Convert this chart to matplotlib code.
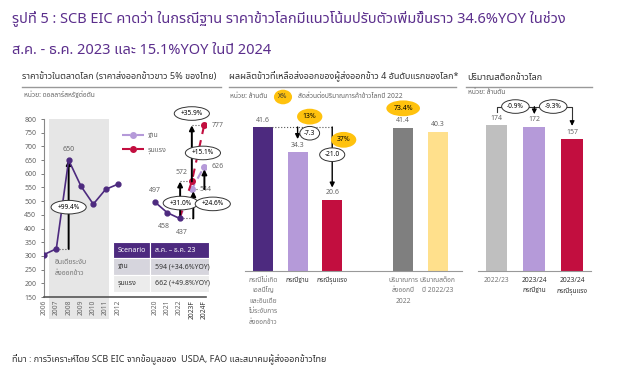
import matplotlib
matplotlib.use("Agg")
import matplotlib.pyplot as plt
import matplotlib.patches as patches

plt.rcParams['font.family'] = ['Noto Sans Thai', 'Kanit', 'DejaVu Sans']

# ---- data ----
hist_years = ["2006", "2007", "2008", "2009", "2010", "2011", "2012"]
hist_price = [305, 326, 650, 555, 489, 543, 562]
recent_years = ["2020", "2021", "2022"]
recent_price = [497, 458, 437]
fc_years = ["2023F", "2024F"]
base_fc = [544, 626]
severe_fc = [572, 777]

table_head = ["Scenario", "ส.ค. – ธ.ค. 23"]
table_rows = [["ฐาน", "594 (+34.6%YOY)"], ["รุนแรง", "662 (+49.8%YOY)"]]

export_labels = ["กรณีไม่เกิด\nเอลนีโญ\nและอินเดีย\nไม่ระงับการ\nส่งออกข้าว", "กรณีฐาน", "กรณีรุนแรง",
                 "ปริมาณการ\nส่งออกปี\n2022", "ปริมาณสต็อก\nปี 2022/23"]
export_vals = [41.6, 34.3, 20.6, 41.4, 40.3]
export_colors = ["#4d2a7f", "#b59ad9", "#c20e3f", "#7f7f7f", "#ffe08c"]

stock_labels = ["2022/23", "2023/24\nกรณีฐาน", "2023/24\nกรณีรุนแรง"]
stock_vals = [174, 172, 157]
stock_colors = ["#bfbfbf", "#b59ad9", "#c20e3f"]

PURPLE = "#4d2a7f"
LPURPLE = "#b59ad9"
RED = "#c20e3f"
GRAY = "#666666"
YELLOW = "#ffc20e"

W, H = 620, 384
fig = plt.figure(figsize=(W / 100, H / 100), dpi=100)


def fx(x):
    return x / W


def fy(y):
    return 1 - y / H


def ftext(x, y, s, **kw):
    fig.text(fx(x), fy(y), s, **kw)


def fline(x0, x1, y, **kw):
    fig.add_artist(plt.Line2D([fx(x0), fx(x1)], [fy(y), fy(y)], **kw))


# ---- titles ----
ftext(12, 18, "รูปที่ 5 : SCB EIC คาดว่า ในกรณีฐาน ราคาข้าวโลกมีแนวโน้มปรับตัวเพิ่มขึ้นราว 34.6%YOY ในช่วง",
      fontsize=10.5, color="#5b2e8c", va="center", fontweight="semibold")
ftext(12, 50, "ส.ค. - ธ.ค. 2023 และ 15.1%YOY ในปี 2024", fontsize=10.5, color="#5b2e8c", va="center",
      fontweight="semibold")
ftext(12, 360, "ที่มา : การวิเคราะห์โดย SCB EIC จากข้อมูลของ  USDA, FAO และสมาคมผู้ส่งออกข้าวไทย",
      fontsize=6.5, color="#333333", va="center")

ftext(22, 77, "ราคาข้าวในตลาดโลก (ราคาส่งออกข้าวขาว 5% ของไทย)", fontsize=6.5, color="#333333",
      fontweight="bold", va="center")
fline(22, 221, 87, color="#999999", lw=1)
ftext(24, 95, "หน่วย: ดอลลาร์สหรัฐต่อตัน", fontsize=4.8, color=GRAY, va="center")

ftext(229, 77, "ผลผลิตข้าวที่เหลือส่งออกของผู้ส่งออกข้าว 4 อันดับแรกของโลก*", fontsize=6.5, color="#333333",
      fontweight="bold", va="center")
fline(229, 456, 87, color="#999999", lw=1)
ftext(230, 96, "หน่วย: ล้านตัน", fontsize=4.8, color=GRAY, va="center")
ftext(283, 97, "X%", fontsize=4.8, color="#333333", va="center", ha="center",
      bbox=dict(boxstyle="ellipse,pad=0.25", fc=YELLOW, ec="none"))
ftext(298, 97, "สัดส่วนต่อปริมาณการค้าข้าวโลกปี 2022", fontsize=4.8, color=GRAY, va="center")

ftext(467, 77, "ปริมาณสต็อกข้าวโลก", fontsize=6.5, color="#333333", fontweight="bold", va="center")
fline(466, 592, 87, color="#999999", lw=1)
ftext(468, 93, "หน่วย: ล้านตัน", fontsize=4.8, color=GRAY, va="center")

# ---- panel 1: price line ----
ax1 = fig.add_axes([fx(44), fy(297), fx(206) - fx(44), fy(119) - fy(297)])
hx = list(range(len(hist_years)))
rx = [9 + i for i in range(len(recent_years))]
fxs = [rx[-1] + 1 + i for i in range(len(fc_years))]
ax1.set_xlim(0, 13.15)
ax1.set_ylim(150, 800)

ax1.add_patch(patches.Rectangle((0.4, 70), 4.9, 730, fc="#e6e6e6", ec="none", zorder=0, clip_on=False))

ax1.plot([rx[-1]] + fxs, [recent_price[-1]] + base_fc, ls=(0, (4, 3)), color=LPURPLE, lw=1.5,
         marker="o", ms=4, markevery=[1, 2], label="ฐาน", zorder=3)
ax1.plot([rx[-1]] + fxs, [recent_price[-1]] + severe_fc, ls=(0, (4, 3)), color=RED, lw=1.5,
         marker="o", ms=4, markevery=[1, 2], label="รุนแรง", zorder=3)
ax1.plot(hx, hist_price, color=PURPLE, lw=1.2, marker="o", ms=3.5, zorder=4)
ax1.plot(rx, recent_price, color=PURPLE, lw=1.2, marker="o", ms=3.5, zorder=4)

ax1.set_xticks(hx + rx + fxs)
ax1.set_xticklabels(hist_years + recent_years + fc_years, rotation=90, fontsize=4.8, color=GRAY)
for t in ax1.get_xticklabels()[-2:]:
    t.set_fontweight("bold")
    t.set_color("#333333")
ax1.set_yticks(range(150, 801, 50))
ax1.tick_params(axis="y", labelsize=5, colors=GRAY, length=2, width=0.6)
ax1.tick_params(axis="x", length=0, pad=2)
for s in ["top", "right"]:
    ax1.spines[s].set_visible(False)
ax1.spines["left"].set_color("#888888")
ax1.spines["bottom"].set_color("#555555")
ax1.spines["bottom"].set_linewidth(1.2)
ax1.patch.set_alpha(0)

leg = ax1.legend(loc="upper left", bbox_to_anchor=(0.44, 0.96), frameon=False, fontsize=5,
                 handlelength=3.2, labelspacing=1.0, handletextpad=0.6)
for t in leg.get_texts():
    t.set_color(GRAY)

arrow = dict(arrowstyle="-|>", color="black", lw=1.4, mutation_scale=7, shrinkA=0, shrinkB=0)
ell = dict(boxstyle="ellipse,pad=0.2", fc="white", ec="#333333", lw=0.7)
dot = dict(ls=":", color="#555555", lw=0.8)
EFS = 4.7

# 2008 spike
ax1.plot([1, 2], [hist_price[1], hist_price[1]], **dot)
ax1.annotate("", xy=(2, hist_price[2]), xytext=(2, hist_price[1]), arrowprops=arrow)
ax1.text(2, 478, "+99.4%", fontsize=EFS, ha="center", va="center", bbox=ell, zorder=6)
ax1.text(2, 690, "650", fontsize=5, ha="center", va="center", color=GRAY)
ax1.text(0.9, 255, "อินเดียระงับ\nส่งออกข้าว", fontsize=5, ha="left", va="center", color="#777777",
         linespacing=1.8)

ax1.text(9, 540, "497", fontsize=5, ha="center", va="center", color=GRAY)
ax1.text(9.7, 408, "458", fontsize=5, ha="center", va="center", color=GRAY)
ax1.text(11.2, 386, "437", fontsize=5, ha="center", va="center", color=GRAY)

# 2023 severe
ax1.plot([11, 12.15], [recent_price[-1], recent_price[-1]], **dot)
ax1.plot([11.05, 12], [severe_fc[0], severe_fc[0]], **dot)
ax1.annotate("", xy=(11.05, severe_fc[0]), xytext=(11.05, recent_price[-1]), arrowprops=arrow)
ax1.text(11.15, 603, "572", fontsize=5, ha="center", va="center", color=GRAY)
ax1.text(11.1, 493, "+31.0%", fontsize=EFS, ha="center", va="center", bbox=ell, zorder=6)
# 2023 base
ax1.annotate("", xy=(12.12, base_fc[0] - 8), xytext=(12.12, recent_price[-1]), arrowprops=arrow)
ax1.plot([12.1, 12.6], [base_fc[0], base_fc[0]], **dot)
ax1.text(12.65, base_fc[0], "544", fontsize=5, ha="left", va="center", color=GRAY)
ax1.text(13.7, 490, "+24.6%", fontsize=EFS, ha="center", va="center", bbox=ell, zorder=6,
         clip_on=False)
# 2024 severe
ax1.plot([12, 13], [severe_fc[1], severe_fc[1]], **dot)
ax1.annotate("", xy=(12, severe_fc[1]), xytext=(12, severe_fc[0]), arrowprops=arrow,
             annotation_clip=False)
ax1.text(12, 820, "+35.9%", fontsize=EFS, ha="center", va="center", bbox=ell, zorder=6, clip_on=False)
ax1.text(13.6, severe_fc[1], "777", fontsize=5, ha="left", va="center", color=GRAY, clip_on=False)
# 2024 base
ax1.annotate("", xy=(13.02, base_fc[1] - 10), xytext=(13.02, base_fc[0]), arrowprops=arrow)
ax1.text(12.9, 676, "+15.1%", fontsize=EFS, ha="center", va="center", bbox=ell, zorder=6)
ax1.text(13.6, base_fc[1], "626", fontsize=5, ha="left", va="center", color=GRAY, clip_on=False)

# table
tx = [113, 150, 209]
ty = [242, 258, 275, 292]
fills = [PURPLE, "#d6d5dd", "#ececec"]
cells = [table_head] + table_rows
for r in range(3):
    for c in range(2):
        fig.add_artist(patches.Rectangle((fx(tx[c]), fy(ty[r + 1])), fx(tx[c + 1]) - fx(tx[c]),
                                         fy(ty[r]) - fy(ty[r + 1]), transform=fig.transFigure,
                                         fc=fills[r], ec="white", lw=0.8))
        col = "white" if r == 0 else "#333333"
        wt = "bold" if (c == 0 and r > 0) else "normal"
        ftext(tx[c] + 5, (ty[r] + ty[r + 1]) / 2, cells[r][c], fontsize=5, color=col,
              fontweight=wt, va="center")

# ---- panel 2: exportable surplus ----
ax2 = fig.add_axes([fx(245), fy(271), fx(462) - fx(245), fy(100) - fy(271)])
ex = [0, 1, 2, 4.05, 5.05]
ax2.bar(ex, export_vals, width=0.58, color=export_colors)
ax2.set_xlim(-0.52, 5.75)
ax2.set_ylim(0, 49.4)
ax2.set_yticks([])
for s in ["top", "right", "left"]:
    ax2.spines[s].set_visible(False)
ax2.spines["bottom"].set_color("#999999")
ax2.set_xticks(ex)
ax2.set_xticklabels(export_labels, fontsize=4.8, color="#777777", va="top", linespacing=1.7)
ax2.tick_params(axis="x", length=0, pad=4)
for i in (1, 2):
    t = ax2.get_xticklabels()[i]
    t.set_fontweight("bold")
    t.set_color("#333333")
for xv, v in zip(ex, export_vals):
    ax2.text(xv, v + 1.0, f"{v:.1f}", fontsize=5, ha="center", va="bottom", color=GRAY)

ax2.plot([ex[0], ex[2]], [export_vals[0], export_vals[0]], **dot)
ax2.annotate("", xy=(ex[1], export_vals[1] + 3.8), xytext=(ex[1], export_vals[0]),
             arrowprops=dict(arrow, lw=1.0))
ax2.text(ex[1] + 0.35, export_vals[0] - 1.8, "-7.3", fontsize=EFS, ha="center", va="center", bbox=ell)
ax2.annotate("", xy=(ex[2], export_vals[2] + 3.5), xytext=(ex[2], export_vals[0]),
             arrowprops=dict(arrow, lw=1.0))
ax2.text(ex[2], export_vals[0] - 8, "-21.0", fontsize=EFS, ha="center", va="center", bbox=ell)
ax2.text(ex[1] + 0.35, export_vals[0] + 3, "13%", fontsize=5, ha="center", va="center",
         bbox=dict(boxstyle="ellipse,pad=0.3", fc=YELLOW, ec="none"))
ax2.text(ex[2] + 0.33, export_vals[0] - 3.7, "37%", fontsize=5, ha="center", va="center",
         bbox=dict(boxstyle="ellipse,pad=0.3", fc=YELLOW, ec="none"))
ax2.text(ex[3], export_vals[3] + 5.6, "73.4%", fontsize=5, ha="center", va="center",
         bbox=dict(boxstyle="ellipse,pad=0.3", fc=YELLOW, ec="none"))

# ---- panel 3: world stock ----
ax3 = fig.add_axes([fx(478), fy(271), fx(591) - fx(478), fy(100) - fy(271)])
sx = [0, 1, 2]
ax3.bar(sx, stock_vals, width=0.58, color=stock_colors)
ax3.set_xlim(-0.49, 2.5)
ax3.set_ylim(0, 203.8)
ax3.set_yticks([])
for s in ["top", "right", "left"]:
    ax3.spines[s].set_visible(False)
ax3.spines["bottom"].set_color("#999999")
ax3.set_xticks(sx)
ax3.set_xticklabels(stock_labels, fontsize=4.8, color="#777777", va="top", linespacing=1.7)
ax3.tick_params(axis="x", length=0, pad=4)
for i in (1, 2):
    t = ax3.get_xticklabels()[i]
    t.set_fontweight("bold")
    t.set_color("#333333")
for xv, v in zip(sx, stock_vals):
    ax3.text(xv, v + 4, f"{v}", fontsize=5, ha="center", va="bottom", color=GRAY)

ytop = 196
ax3.plot([0, 0, 1], [stock_vals[0] + 15, ytop, ytop], color="#333333", lw=0.8)
ax3.annotate("", xy=(1, stock_vals[1] + 15), xytext=(1, ytop), arrowprops=dict(arrow, lw=0.8))
ax3.plot([1, 2, 2], [ytop, ytop, stock_vals[2] + 20], color="#333333", lw=0.8)
ax3.annotate("", xy=(2, stock_vals[2] + 16), xytext=(2, stock_vals[2] + 22),
             arrowprops=dict(arrow, lw=0.8))
ax3.text(0.5, ytop, "-0.9%", fontsize=EFS, ha="center", va="center", bbox=ell)
ax3.text(1.5, ytop, "-9.3%", fontsize=EFS, ha="center", va="center", bbox=ell)

fig.savefig("out.png", dpi=100)
